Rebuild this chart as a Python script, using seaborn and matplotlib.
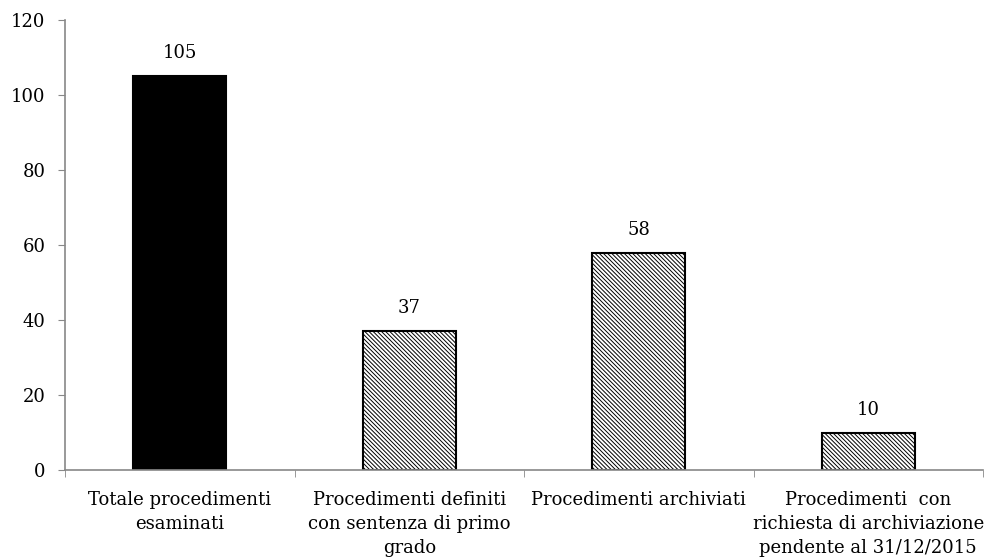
import matplotlib
matplotlib.use("Agg")
import matplotlib.pyplot as plt
import seaborn as sns
import numpy as np
import pandas as pd

# dati
categorie = [
    "Totale procedimenti\nesaminati",
    "Procedimenti definiti\ncon sentenza di primo\ngrado",
    "Procedimenti archiviati",
    "Procedimenti  con\nrichiesta di archiviazione\npendente al 31/12/2015",
]
valori = [105, 37, 58, 10]

df = pd.DataFrame({"categoria": categorie, "valore": valori})

sns.set_style("white")
plt.rcParams["font.family"] = ["DejaVu Serif"]
plt.rcParams["text.color"] = "black"
plt.rcParams["xtick.color"] = "black"
plt.rcParams["ytick.color"] = "black"
plt.rcParams["hatch.color"] = "#707070"
plt.rcParams["hatch.linewidth"] = 0.7

fig = plt.figure(figsize=(9.88, 5.58), dpi=100)
ax = fig.add_axes([65 / 988, 88 / 558, 918 / 988, 450 / 558])

sns.barplot(data=df, x="categoria", y="valore", color="white", width=0.405,
            edgecolor="black", linewidth=1.5, ax=ax)

# prima barra nera, le altre tratteggiate
for i, p in enumerate(ax.patches):
    if i == 0:
        p.set_facecolor("black")
    else:
        p.set_facecolor("white")
        p.set_hatch("\\" * 8)

ax.bar_label(ax.containers[0], padding=10, fontsize=13)

ax.set_ylim(0, 120)
ax.set_yticks(np.arange(0, 121, 20))
ax.set_xlim(-0.5, len(categorie) - 0.5)
ax.set_xlabel("")
ax.set_ylabel("")

for s in ["top", "right"]:
    ax.spines[s].set_visible(False)
for s in ["left", "bottom"]:
    ax.spines[s].set_color("#888888")
    ax.spines[s].set_linewidth(1.2)

ax.tick_params(axis="y", which="major", length=5, color="#888888", labelsize=13, left=True, pad=9)
ax.tick_params(axis="x", which="major", length=0, labelsize=13, pad=15)
for lab in ax.get_xticklabels():
    lab.set_linespacing(1.45)
ax.set_xticks(np.arange(-0.5, len(categorie)), minor=True)
ax.tick_params(axis="x", which="minor", length=5, color="#888888", bottom=True)

fig.savefig("out.png", dpi=100)
